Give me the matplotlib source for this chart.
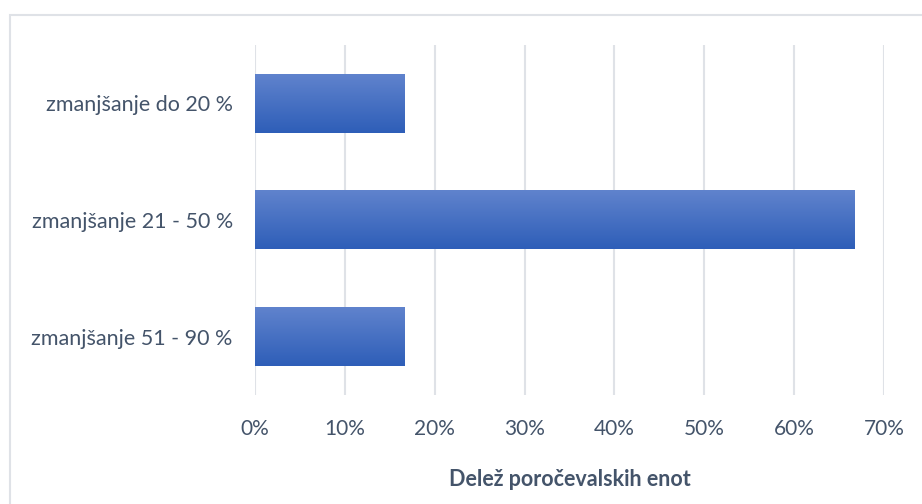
import matplotlib
matplotlib.use("Agg")
import matplotlib.pyplot as plt
import numpy as np
from matplotlib.patches import Rectangle
from matplotlib.ticker import PercentFormatter

categories = ["zmanjšanje do 20 %", "zmanjšanje 21 - 50 %", "zmanjšanje 51 - 90 %"]
shares = [16.67, 66.67, 16.67]
x_ticks = [0, 10, 20, 30, 40, 50, 60, 70]
x_label = "Delež poročevalskih enot"

text_color = "#44546a"
grid_color = "#dfe2e7"
top_color = np.array([0x60, 0x83, 0xcd]) / 255
bottom_color = np.array([0x2e, 0x5e, 0xb8]) / 255

plt.rcParams["font.family"] = ["Lato", "DejaVu Sans"]

fig = plt.figure(figsize=(9.22, 5.04), dpi=100)
ax = fig.add_axes([255 / 922, 109 / 504, 629 / 922, 350 / 504])

y_pos = np.arange(len(categories))
bars = ax.barh(y_pos, shares, height=0.5, color="none", zorder=2)

# vertical gradient, lighter on top
grad = np.linspace(0, 1, 256)[:, None, None]
img = top_color * (1 - grad) + bottom_color * grad
for bar in bars:
    x0, y0 = bar.get_x(), bar.get_y()
    w, h = bar.get_width(), bar.get_height()
    ax.imshow(img, extent=(x0, x0 + w, y0 + h, y0), aspect="auto",
              origin="upper", zorder=3, interpolation="bilinear")

ax.set_xlim(0, 70)
ax.set_ylim(2.5, -0.5)
ax.set_xticks(x_ticks)
ax.xaxis.set_major_formatter(PercentFormatter(decimals=0))
ax.set_yticks(y_pos)
ax.set_yticklabels(categories)
ax.grid(axis="x", color=grid_color, linewidth=1.5, zorder=0)
ax.set_axisbelow(True)
for side in ax.spines.values():
    side.set_visible(False)
ax.tick_params(length=0, colors=text_color)
ax.tick_params(axis="x", labelsize=15, pad=17)
ax.tick_params(axis="y", labelsize=15.5, pad=16)
ax.set_xlabel(x_label, fontsize=15.5, fontweight="bold", color=text_color, labelpad=22)

fig.patches.append(Rectangle((9.5 / 922, -0.1), 1.2, 1 - 14.5 / 504 + 0.1,
                             transform=fig.transFigure, fill=False,
                             edgecolor="#dfe2e7", linewidth=1.5))

fig.savefig("out.png", dpi=100)
